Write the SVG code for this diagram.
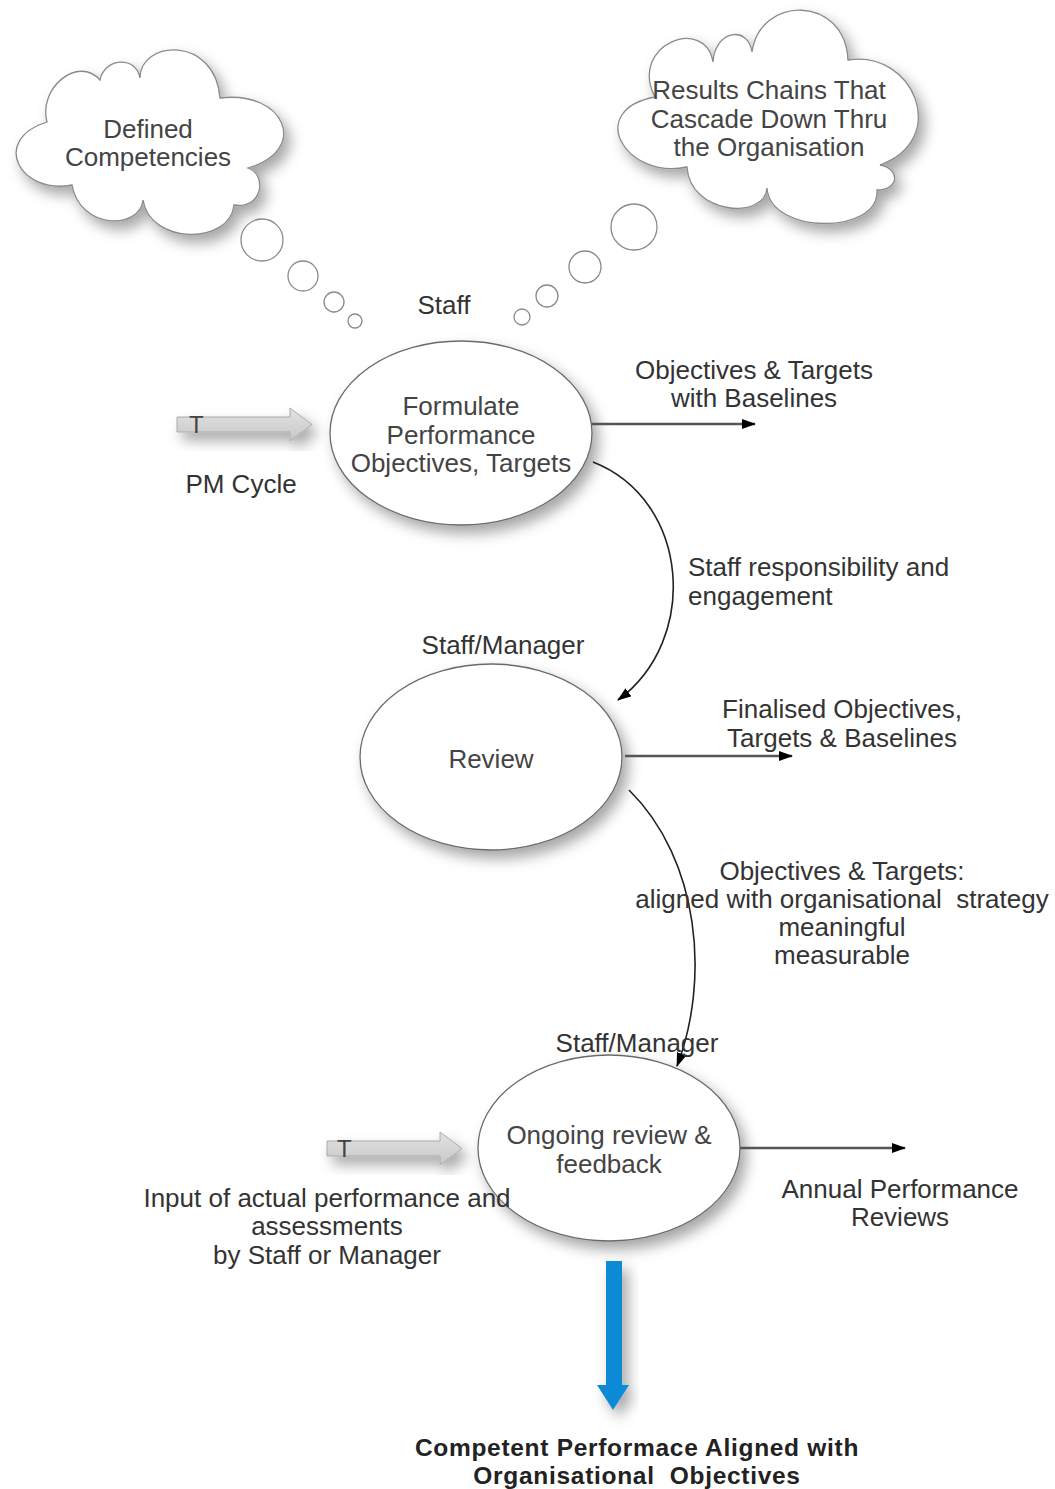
<svg xmlns="http://www.w3.org/2000/svg" width="1055" height="1489" viewBox="0 0 1055 1489">
<style>
text{font-family:"Liberation Sans",Arial,sans-serif;font-size:26px;fill:#333;}
.c{text-anchor:middle;}
.n{fill:#444;}
.b{font-weight:bold;fill:#222;font-size:24.5px;letter-spacing:0.7px;}
.cloud{fill:#fff;stroke:#8a8a8a;stroke-width:1.3;}
.bub{fill:#fff;stroke:#8a8a8a;stroke-width:1.3;}
.node{fill:#fff;stroke:#6a6a6a;stroke-width:1.3;}
.line{fill:none;stroke:#555;stroke-width:2.6;}
.curve{fill:none;stroke:#222;stroke-width:1.6;}
.block{fill:url(#gg);stroke:#aaa;stroke-width:1;}
.t{font-size:24px;fill:#444;}
</style>
<defs>
<filter id="sh" x="-20%" y="-20%" width="150%" height="150%">
<feDropShadow dx="6" dy="8" stdDeviation="7" flood-color="#000" flood-opacity="0.35"/>
</filter>
<linearGradient id="gg" x1="0" y1="0" x2="0" y2="1">
<stop offset="0" stop-color="#e2e2e2"/>
<stop offset="1" stop-color="#c8c8c8"/>
</linearGradient>
<marker id="ah" viewBox="0 0 14 10" refX="13" refY="5" markerWidth="14" markerHeight="10" markerUnits="userSpaceOnUse" orient="auto">
<path d="M0,0 L14,5 L0,10 Z" fill="#000"/>
</marker>
</defs>

<g id="cloud-competencies">
<path class="cloud" filter="url(#sh)" d="M47 122 C38 88,78 55,100 80 C104 58,136 55,140 78 C140 40,215 35,220 98 C285 90,310 150,248 168 C268 175,262 210,234 205 C230 245,150 245,143 200 C140 230,80 230,72 185 C20 195,-10 140,47 122 Z"/>
<circle class="bub" cx="262" cy="240" r="21"/>
<circle class="bub" cx="303" cy="276" r="15"/>
<circle class="bub" cx="334" cy="302" r="10"/>
<circle class="bub" cx="355" cy="321" r="7"/>
<text class="c n" x="148" y="138">Defined</text>
<text class="c n" x="148" y="166">Competencies</text>
</g>

<g id="cloud-results">
<path class="cloud" filter="url(#sh)" d="M655 97 C628 45,705 15,713 62 C715 30,748 25,752 52 C760 -5,845 -5,848 60 C915 50,950 140,880 165 C900 168,900 190,877 190 C880 235,770 235,767 188 C765 220,690 215,687 167 C625 180,585 110,655 97 Z"/>
<circle class="bub" cx="634" cy="227" r="23"/>
<circle class="bub" cx="585" cy="267" r="16"/>
<circle class="bub" cx="547" cy="296" r="11"/>
<circle class="bub" cx="522" cy="317" r="8"/>
<text class="c n" x="769" y="99">Results Chains That</text>
<text class="c n" x="769" y="128">Cascade Down Thru</text>
<text class="c n" x="769" y="156">the Organisation</text>
</g>

<g id="pm-cycle">
<path class="block" filter="url(#sh)" d="M177 417 H290 V408 L312 424.5 L290 441 V432 H177 Z"/>
<text class="t" x="189" y="433">T</text>
<text class="c" x="241" y="493">PM Cycle</text>
</g>

<g id="formulate">
<text class="c" x="444" y="314">Staff</text>
<ellipse class="node" filter="url(#sh)" cx="461" cy="433" rx="131" ry="92"/>
<text class="c n" x="461" y="415">Formulate</text>
<text class="c n" x="461" y="444">Performance</text>
<text class="c n" x="461" y="472">Objectives, Targets</text>
</g>

<g id="review">
<text class="c" x="503" y="654">Staff/Manager</text>
<ellipse class="node" filter="url(#sh)" cx="491" cy="757" rx="131" ry="93"/>
<text class="c n" x="491" y="768">Review</text>
</g>

<g id="ongoing">
<ellipse class="node" filter="url(#sh)" cx="609" cy="1148" rx="131" ry="93"/>
<text class="c n" x="609" y="1144">Ongoing review &amp;</text>
<text class="c n" x="609" y="1173">feedback</text>
</g>

<g id="input">
<path class="block" filter="url(#sh)" d="M327 1141 H440 V1132 L462 1148.5 L440 1165 V1156 H327 Z"/>
<text class="t" x="337" y="1157">T</text>
<text class="c" x="327" y="1207">Input of actual performance and</text>
<text class="c" x="327" y="1235">assessments</text>
<text class="c" x="327" y="1264">by Staff or Manager</text>
</g>

<g id="outcome">
<path filter="url(#sh)" fill="#0a8ad6" d="M606 1261 H622 V1385 H629 L613 1410 L597 1385 H606 Z"/>
<text class="c b" x="637" y="1456">Competent Performace Aligned with</text>
<text class="c b" x="637" y="1484" xml:space="preserve">Organisational  Objectives</text>
</g>

<g id="connectors">
<line class="line" x1="592" y1="424" x2="755" y2="424" marker-end="url(#ah)"/>
<path class="curve" d="M593 462 C690 500,700 640,618 700" marker-end="url(#ah)"/>
<line class="line" x1="625" y1="756" x2="792" y2="756" marker-end="url(#ah)"/>
<path class="curve" d="M629 790 C700 860,710 980,677 1066" marker-end="url(#ah)"/>
<line class="line" x1="740" y1="1148" x2="905" y2="1148" marker-end="url(#ah)"/>
</g>

<g id="labels">
<text class="c" x="754" y="379">Objectives &amp; Targets</text>
<text class="c" x="754" y="407">with Baselines</text>
<text x="688" y="576">Staff responsibility and</text>
<text x="688" y="605">engagement</text>
<text class="c" x="842" y="718">Finalised Objectives,</text>
<text class="c" x="842" y="747">Targets &amp; Baselines</text>
<text class="c" x="842" y="880">Objectives &amp; Targets:</text>
<text class="c" x="842" y="908" xml:space="preserve">aligned with organisational  strategy</text>
<text class="c" x="842" y="936">meaningful</text>
<text class="c" x="842" y="964">measurable</text>
<text class="c" x="637" y="1052">Staff/Manager</text>
<text class="c" x="900" y="1198">Annual Performance</text>
<text class="c" x="900" y="1226">Reviews</text>
</g>
</svg>
